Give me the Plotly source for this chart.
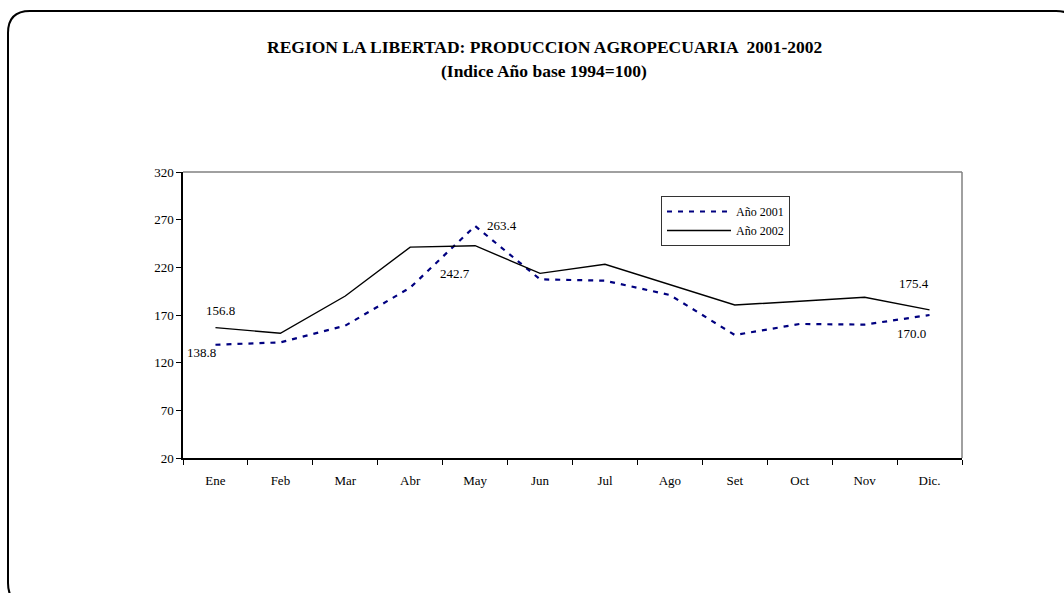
import plotly.graph_objects as go

# Monthly agricultural production index, La Libertad (base 1994 = 100)
months = ["Ene", "Feb", "Mar", "Abr", "May", "Jun", "Jul", "Ago", "Set", "Oct", "Nov", "Dic."]
idx_2001 = [138.8, 141.3, 158.8, 198.7, 263.4, 207.4, 206.0, 191.0, 149.0, 160.6, 159.9, 170.0]
idx_2002 = [156.8, 150.8, 189.9, 241.2, 242.7, 213.7, 223.2, 202.0, 180.5, 184.4, 188.6, 175.4]
y_ticks = [20, 70, 120, 170, 220, 270, 320]

W, H = 1064, 593
ML, MR, MT, MB = 183, 102, 172, 135
PW, PH = W - ML - MR, H - MT - MB
SERIF = "Liberation Serif"


def px(x):
    return (x - ML) / PW


def py(y):
    return (H - MB - y) / PH


fig = go.Figure()
fig.add_trace(go.Scatter(
    x=months, y=idx_2001, name="Año 2001", mode="lines",
    line=dict(color="#000080", width=2.2, dash="5px,6px"),
))
fig.add_trace(go.Scatter(
    x=months, y=idx_2002, name="Año 2002", mode="lines",
    line=dict(color="#000000", width=1.4),
))

# value labels: (month index, series, x offset, y offset)
labels = [
    (0, idx_2002, 5, 17),
    (0, idx_2001, -14, -8),
    (4, idx_2001, 27, 0),
    (4, idx_2002, -20, -28),
    (11, idx_2002, -16, 26),
    (11, idx_2001, -18, -18),
]
for i, series, dx, dy in labels:
    fig.add_annotation(
        x=months[i], y=series[i], text=f"{series[i]:.1f}", showarrow=False,
        xshift=dx, yshift=dy, font=dict(family=SERIF, size=13, color="#000"),
    )

# title lines
fig.add_annotation(
    x=px(544), y=py(47), xref="paper", yref="paper", showarrow=False,
    xanchor="center", yanchor="middle",
    text="<b>REGION LA LIBERTAD: PRODUCCION AGROPECUARIA  2001-2002</b>",
    font=dict(family=SERIF, size=17.5, color="#000"),
)
fig.add_annotation(
    x=px(544), y=py(71), xref="paper", yref="paper", showarrow=False,
    xanchor="center", yanchor="middle",
    text="<b>(Indice Año base 1994=100)</b>",
    font=dict(family=SERIF, size=17.5, color="#000"),
)

# grey top/right frame of the plotting area
fig.add_shape(type="line", xref="paper", yref="paper", x0=0, x1=1, y0=1, y1=1,
              line=dict(color="#808080", width=1.5))
fig.add_shape(type="line", xref="paper", yref="paper", x0=1, x1=1, y0=0, y1=1,
              line=dict(color="#808080", width=1.5))

# rounded outer border
r = 22
L, T, R, B = 8, 11, 1078, 605
path = (
    f"M {px(L)},{py(B - r)} L {px(L)},{py(T + r)} "
    f"Q {px(L)},{py(T)} {px(L + r)},{py(T)} "
    f"L {px(R - r)},{py(T)} Q {px(R)},{py(T)} {px(R)},{py(T + r)} "
    f"L {px(R)},{py(B - r)} Q {px(R)},{py(B)} {px(R - r)},{py(B)} "
    f"L {px(L + r)},{py(B)} Q {px(L)},{py(B)} {px(L)},{py(B - r)} Z"
)
fig.add_shape(type="path", path=path, xref="paper", yref="paper",
              line=dict(color="#000", width=2))

fig.update_layout(
    width=W, height=H,
    margin=dict(l=ML, r=MR, t=MT, b=MB),
    paper_bgcolor="white", plot_bgcolor="white",
    font=dict(family=SERIF, size=13, color="#000"),
    showlegend=True,
    legend=dict(
        x=px(661), y=py(196), xanchor="left", yanchor="top",
        bgcolor="white", bordercolor="#333", borderwidth=1,
        font=dict(family=SERIF, size=12, color="#000"),
        itemwidth=64, tracegroupgap=0,
    ),
    xaxis=dict(
        type="category", tickson="boundaries", ticks="outside", ticklen=5,
        tickcolor="#000", showline=True, linecolor="#000", linewidth=1.5,
        showgrid=False, zeroline=False, ticklabelstandoff=10,
        range=[-0.5, 11.5],
    ),
    yaxis=dict(
        range=[20, 320], tickvals=y_ticks, ticks="outside", ticklen=5,
        tickcolor="#000", showline=True, linecolor="#000", linewidth=1.5,
        showgrid=False, zeroline=False,
    ),
)

fig.write_html("out.html")
